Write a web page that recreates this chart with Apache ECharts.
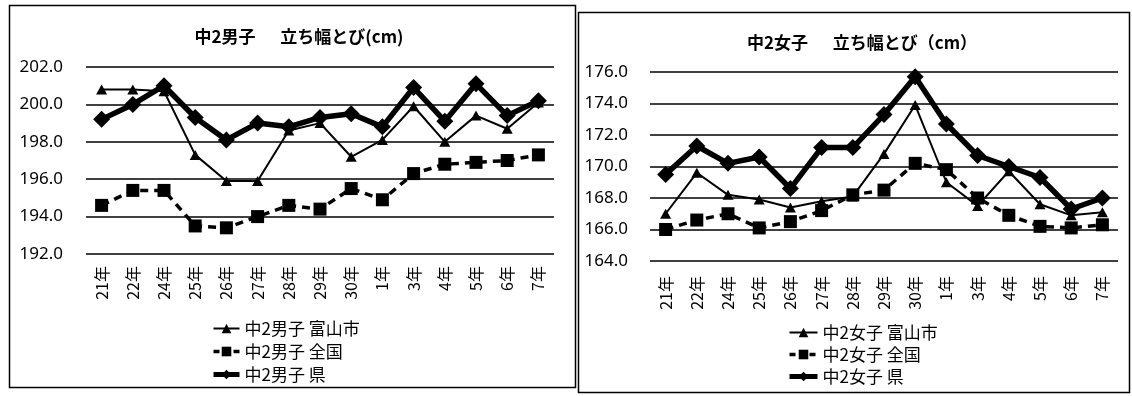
<!DOCTYPE html>
<html><head><meta charset="utf-8">
<script src="https://cdn.jsdelivr.net/npm/echarts@6/dist/echarts.min.js"></script>
<style>html,body{margin:0;padding:0;background:#fff}#c{width:1132px;height:396px}</style>
</head><body><div id="c"></div>
<script>
const categories = ['21年','22年','24年','25年','26年','27年','28年','29年','30年','1年','3年','4年','5年','6年','7年'];
const boysTitle = '中2男子　  立ち幅とび(cm)';
const girlsTitle = '中2女子　  立ち幅とび（cm）';
const boysNames = ['中2男子 富山市','中2男子 全国','中2男子 県'];
const girlsNames = ['中2女子 富山市','中2女子 全国','中2女子 県'];
const boysCity = [200.8, 200.8, 200.7, 197.3, 195.9, 195.9, 198.6, 199.0, 197.2, 198.1, 199.9, 198.0, 199.4, 198.7, 200.1];
const boysNation = [194.6, 195.4, 195.4, 193.5, 193.4, 194.0, 194.6, 194.4, 195.5, 194.9, 196.3, 196.8, 196.9, 197.0, 197.3];
const boysPref = [199.2, 200.0, 201.0, 199.3, 198.1, 199.0, 198.8, 199.3, 199.5, 198.8, 200.9, 199.1, 201.1, 199.4, 200.2];
const girlsCity = [167.0, 169.6, 168.2, 167.9, 167.4, 167.8, 168.1, 170.8, 173.9, 169.0, 167.5, 169.7, 167.6, 166.9, 167.1];
const girlsNation = [166.0, 166.6, 167.0, 166.1, 166.5, 167.2, 168.2, 168.5, 170.2, 169.8, 168.0, 166.9, 166.2, 166.1, 166.3];
const girlsPref = [169.5, 171.3, 170.2, 170.6, 168.6, 171.2, 171.2, 173.3, 175.7, 172.7, 170.7, 170.0, 169.3, 167.3, 168.0];
const boysAxis = {min: 192, max: 202, interval: 2};
const girlsAxis = {min: 164, max: 176, interval: 2};

const FONT = '"Noto Sans CJK JP","Noto Sans",sans-serif';
const chart = echarts.init(document.getElementById('c'), null, {renderer: 'canvas'});

const styles = [
  {symbol: 'triangle', size: [11, 10], line: {color: '#000', width: 2, type: 'solid'}},
  {symbol: 'rect', size: 13, line: {color: '#000', width: 3.5, type: [8, 6]}},
  {symbol: 'diamond', size: 17, line: {color: '#000', width: 5.5, type: 'solid'}}
];

function xAxis(gi) {
  return {
    type: 'category', gridIndex: gi, data: categories, boundaryGap: true,
    axisLine: {show: false}, axisTick: {show: false},
    axisLabel: {rotate: 90, color: '#000', fontSize: 16, fontFamily: FONT, margin: gi === 0 ? 12 : 15, interval: 0}
  };
}
function yAxis(gi, ax) {
  return {
    type: 'value', gridIndex: gi, min: ax.min, max: ax.max, interval: ax.interval,
    axisLine: {show: false}, axisTick: {show: false},
    axisLabel: {color: '#000', fontSize: 17, fontFamily: '"Noto Sans",sans-serif', margin: gi === 0 ? 23 : 22,
      formatter: v => v.toFixed(1)},
    splitLine: {lineStyle: {color: '#000', width: 1.5}}
  };
}
function seriesSet(gi, names, vals) {
  return vals.map((d, i) => ({
    name: names[i], type: 'line', xAxisIndex: gi, yAxisIndex: gi, data: d,
    symbol: styles[i].symbol, symbolSize: styles[i].size, itemStyle: {color: '#000'},
    lineStyle: styles[i].line, animation: false, silent: true
  }));
}
function legendData(names) {
  return names.map((n, i) => ({
    name: n,
    lineStyle: {color: '#000', width: i === 2 ? 5 : (i === 1 ? 3.5 : 2), type: i === 1 ? [6, 4] : 'solid', opacity: 1}
  }));
}

chart.setOption({
  backgroundColor: '#fff',
  animation: false,
  title: [
    {text: boysTitle, left: 294, top: 23, textAlign: 'center',
     textStyle: {fontSize: 17, fontWeight: 'bold', color: '#000', fontFamily: FONT}},
    {text: girlsTitle, left: 857, top: 29, textAlign: 'center',
     textStyle: {fontSize: 17, fontWeight: 'bold', color: '#000', fontFamily: FONT}}
  ],
  grid: [
    {left: 86, top: 67, width: 468, height: 187},
    {left: 650, top: 72, width: 468, height: 189}
  ],
  xAxis: [xAxis(0), xAxis(1)],
  yAxis: [yAxis(0, boysAxis), yAxis(1, girlsAxis)],
  legend: [
    {data: legendData(boysNames), orient: 'vertical', left: 206, top: 315, itemGap: 6, itemWidth: 26, itemHeight: 12,
     textStyle: {fontSize: 17, color: '#000', fontFamily: FONT}, selectedMode: false},
    {data: legendData(girlsNames), orient: 'vertical', left: 782, top: 319, itemGap: 5, itemWidth: 28, itemHeight: 12,
     textStyle: {fontSize: 17, color: '#000', fontFamily: FONT}, selectedMode: false}
  ],
  graphic: [
    {type: 'rect', shape: {x: 9.5, y: 5.5, width: 566, height: 382}, style: {fill: 'none', stroke: '#000', lineWidth: 1.5}, silent: true},
    {type: 'rect', shape: {x: 578.5, y: 12.5, width: 551, height: 380}, style: {fill: 'none', stroke: '#000', lineWidth: 1.5}, silent: true}
  ],
  series: [].concat(
    seriesSet(0, boysNames, [boysCity, boysNation, boysPref]),
    seriesSet(1, girlsNames, [girlsCity, girlsNation, girlsPref])
  )
});
</script></body></html>
